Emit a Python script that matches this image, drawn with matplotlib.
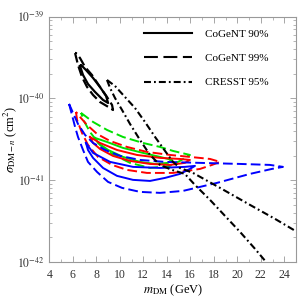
import numpy as np
import matplotlib
matplotlib.use("Agg")
import matplotlib.pyplot as plt
from matplotlib.ticker import MultipleLocator, NullFormatter, FixedLocator, FixedFormatter

plt.rcParams['font.family'] = ['Liberation Serif', 'DejaVu Serif']
plt.rcParams['mathtext.fontset'] = 'stix'
plt.rcParams['lines.scale_dashes'] = False

# ---- data: mass (GeV), log10(sigma / cm^2) ----
# CoGeNT black contours
cog99_m = [6.19, 6.44, 6.78, 7.21, 7.72, 8.31, 9.17, 9.42, 9.34, 8.91, 8.31, 7.63, 7.04, 6.61, 6.27, 6.19]
cog99_s = [-39.444, -39.590, -39.737, -39.859, -39.957, -40.043, -40.116, -40.141, -40.080, -39.982,
           -39.859, -39.713, -39.615, -39.505, -39.444, -39.444]
cog90_m = [6.61, 6.87, 7.29, 7.89, 8.57, 9.00, 8.83, 8.31, 7.72, 7.12, 6.70, 6.61]
cog90_s = [-39.603, -39.713, -39.823, -39.920, -40.018, -40.055, -39.969, -39.859, -39.749, -39.652,
           -39.590, -39.603]

# CRESST 95% boundaries
cresst_up_m = [8.91, 9.59, 10.44, 11.29, 12.14, 13.00, 13.85, 14.53, 15.12, 16.23, 18.53, 21.08, 23.21, 25.08]
cresst_up_s = [-39.774, -39.847, -39.982, -40.116, -40.287, -40.471, -40.642, -40.776, -40.850, -40.911,
               -41.094, -41.302, -41.473, -41.632]
cresst_lo_m = [8.91, 9.17, 9.59, 10.19, 10.87, 11.72, 12.57, 13.42, 14.44, 15.54, 16.39, 17.68, 18.95,
               20.23, 21.51, 22.44]
cresst_lo_s = [-39.774, -39.872, -39.994, -40.141, -40.312, -40.508, -40.691, -40.813, -40.874, -40.923,
               -41.057, -41.241, -41.436, -41.632, -41.840, -41.999]

# blue
blue99_m = [5.68, 5.93, 6.19, 6.44, 6.87, 7.29, 8.06, 9.00, 10.19, 11.72, 13.42, 15.38, 18.27, 21.08, 22.95,
            23.89, 22.78, 20.23, 16.83, 13.85, 11.72, 10.02, 8.74, 7.72, 7.04, 6.44, 6.02, 5.68]
blue99_s = [-40.067, -40.202, -40.348, -40.471, -40.630, -40.776, -40.899, -41.021, -41.094, -41.143, -41.155,
            -41.131, -41.033, -40.923, -40.862, -40.837, -40.813, -40.801, -40.788, -40.776, -40.752, -40.703,
            -40.630, -40.544, -40.446, -40.312, -40.177, -40.067]
blue90_m = [7.12, 7.72, 9.17, 11.12, 13.42, 15.54, 16.40, 15.97, 15.12, 13.85, 12.57, 11.12, 9.76, 8.57,
            7.72, 7.29, 7.12]
blue90_s = [-40.544, -40.666, -40.776, -40.837, -40.850, -40.837, -40.825, -40.862, -40.923, -40.972, -41.009,
            -40.996, -40.947, -40.850, -40.727, -40.630, -40.544]

# red
red99_m = [6.27, 6.36, 6.78, 7.29, 8.14, 9.34, 10.61, 12.31, 14.53, 16.83, 17.85, 18.53, 17.68, 15.97, 14.27,
           12.31, 10.61, 9.17, 8.06, 7.21, 6.61, 6.27]
red99_s = [-40.165, -40.263, -40.422, -40.568, -40.715, -40.813, -40.874, -40.911, -40.911, -40.862, -40.813,
           -40.776, -40.740, -40.715, -40.691, -40.654, -40.593, -40.520, -40.434, -40.324, -40.226, -40.165]
red90_m = [7.46, 8.31, 9.76, 11.46, 13.42, 15.12, 15.97, 15.54, 14.27, 12.57, 10.87, 9.42, 8.31, 7.72, 7.46]
red90_s = [-40.471, -40.544, -40.630, -40.691, -40.727, -40.740, -40.752, -40.788, -40.813, -40.801, -40.764,
           -40.703, -40.617, -40.544, -40.471]

# green
green99_m = [6.70, 7.72, 8.91, 10.27, 11.97, 13.42, 14.53, 15.97, 15.12, 14.27, 12.57, 10.87, 9.34, 8.31,
             7.46, 6.95, 6.70]
green99_s = [-40.177, -40.287, -40.385, -40.471, -40.544, -40.593, -40.642, -40.691, -40.764, -40.825, -40.850,
             -40.788, -40.678, -40.568, -40.410, -40.276, -40.177]
green90_m = [7.89, 8.91, 10.27, 11.97, 13.42, 14.44, 14.10, 13.00, 11.72, 10.27, 9.00, 8.14, 7.89]
green90_s = [-40.483, -40.532, -40.605, -40.666, -40.715, -40.752, -40.788, -40.801, -40.776, -40.715, -40.630,
             -40.544, -40.483]

legend_labels = ["CoGeNT 90%", "CoGeNT 99%", "CRESST 95%"]
x_ticks = [4, 6, 8, 10, 12, 14, 16, 18, 20, 22, 24]
y_decades = [-42, -41, -40, -39]

fig = plt.figure(figsize=(2.99, 2.99), dpi=100)
ax = fig.add_axes([0.165, 0.124, 0.825, 0.82])
ax.set_yscale('log')
ax.set_xlim(4, 25)
ax.set_ylim(1e-42, 1e-39)

DASH = (0, (7, 3))
DASHDOT = (0, (5, 2.2, 1.3, 2.2))
GREEN = '#00e000'

def p(m, s, **kw):
    ax.plot(m, 10 ** np.asarray(s), **kw)

p(green99_m, green99_s, color=GREEN, lw=1.4, ls=DASH)
p(green90_m, green90_s, color=GREEN, lw=1.4, ls='-')
p(red99_m, red99_s, color='red', lw=1.4, ls=DASH)
p(red90_m, red90_s, color='red', lw=1.4, ls='-')
p(blue99_m, blue99_s, color='blue', lw=1.4, ls=DASH)
p(blue90_m, blue90_s, color='blue', lw=1.4, ls='-')

p(cog99_m, cog99_s, color='black', lw=1.6, ls=DASH)
p(cog90_m, cog90_s, color='black', lw=1.6, ls='-')
p(cresst_up_m, cresst_up_s, color='black', lw=1.5, ls=DASHDOT)
p(cresst_lo_m, cresst_lo_s, color='black', lw=1.5, ls=DASHDOT)

# legend
h1, = ax.plot([], [], color='black', lw=1.5, ls='-')
h2, = ax.plot([], [], color='black', lw=1.5, ls=(0, (10, 4)))
h3, = ax.plot([], [], color='black', lw=1.5, ls=DASHDOT)
leg = ax.legend([h1, h2, h3], legend_labels, loc='upper right', bbox_to_anchor=(0.93, 0.99),
                frameon=False, fontsize=8, handlelength=4.3, handletextpad=1.2, labelspacing=1.3)

# axes style
gray = '#999999'
for s in ax.spines.values():
    s.set_color(gray)
    s.set_linewidth(0.8)
ax.xaxis.set_major_locator(FixedLocator(x_ticks))
ax.xaxis.set_major_formatter(FixedFormatter([str(t) for t in x_ticks]))
ax.xaxis.set_minor_locator(MultipleLocator(1))
ax.yaxis.set_major_locator(FixedLocator([10.0 ** d for d in y_decades]))
ax.yaxis.set_major_formatter(FixedFormatter([r'$10^{%d}$' % d for d in y_decades]))
minor_y = [k * 10.0 ** d for d in y_decades[:-1] for k in range(2, 10)]
ax.yaxis.set_minor_locator(FixedLocator(minor_y))
ax.yaxis.set_minor_formatter(NullFormatter())
ax.tick_params(which='both', direction='in', top=True, right=True, color=gray, labelsize=8.5,
               labelcolor='#333333')
ax.tick_params(which='major', length=4, width=0.6)
ax.tick_params(which='minor', length=2, width=0.5)
ax.tick_params(axis='x', pad=5)

ax.set_xlabel(r'$m_{\rm DM}$ (GeV)', fontsize=9, labelpad=1)
ax.set_ylabel(r'$\sigma_{{\rm DM}-n}$ (cm$^2$)', fontsize=9)
ax.yaxis.set_label_coords(-0.125, 0.5)

fig.savefig('out.png', dpi=100)
